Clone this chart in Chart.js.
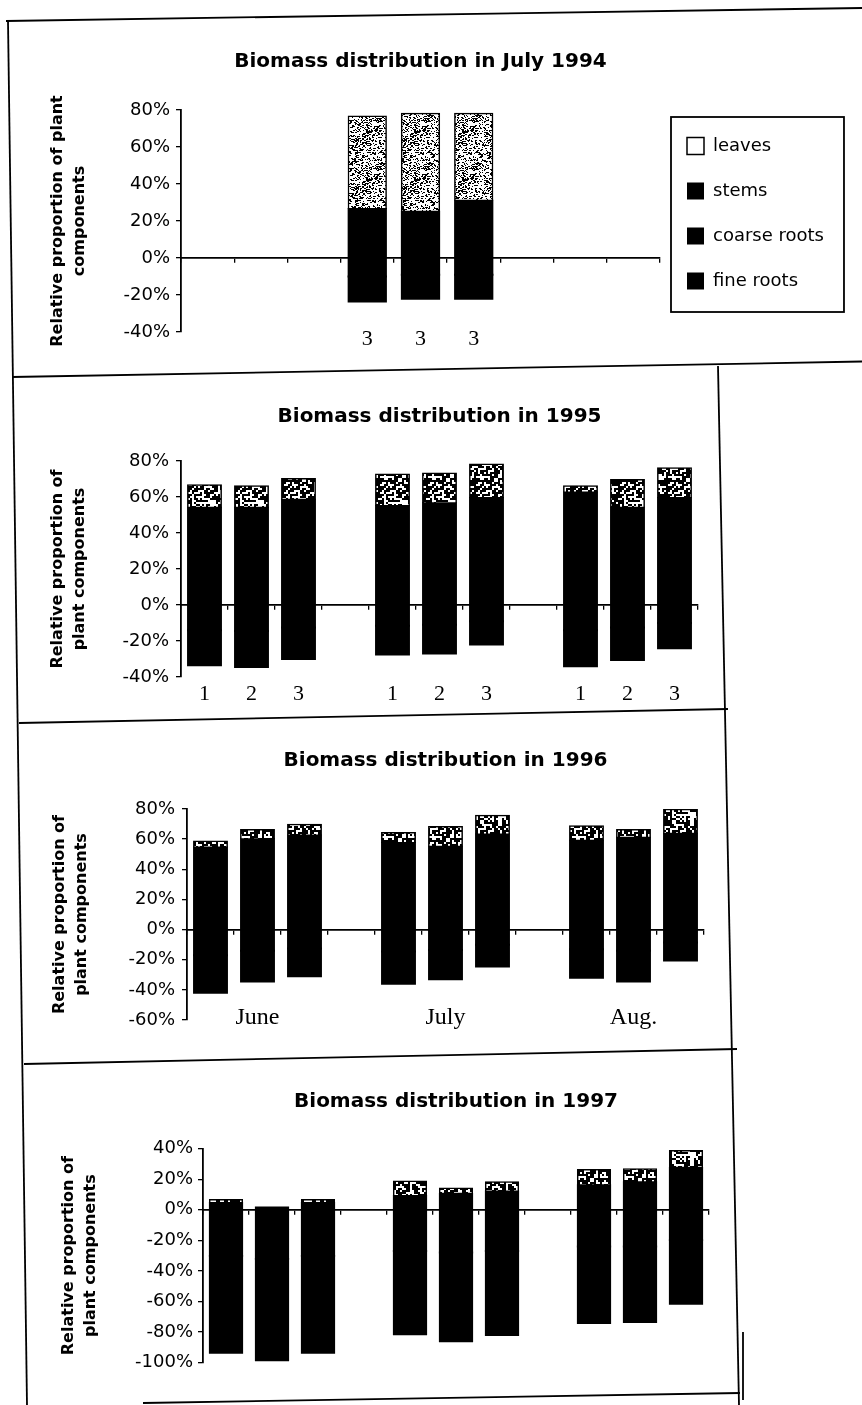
<!DOCTYPE html>
<html>
<head>
<meta charset="utf-8">
<title>Biomass distribution 1994–1997</title>
<script src="https://cdn.jsdelivr.net/npm/chart.js@4.4.1/dist/chart.umd.min.js"></script>
<style>
  html, body { margin: 0; padding: 0; background: #fff; }
  #page { position: relative; width: 862px; height: 1405px; overflow: hidden; background: #fff; }
  #page canvas { position: absolute; left: 0; }
  #frames { position: absolute; left: 0; top: 0; pointer-events: none; }
</style>
</head>
<body>
<div id="page">
  <canvas id="c1994" width="862" height="357" style="top:0px;width:862px;height:357px"></canvas>
  <canvas id="c1995" width="862" height="360" style="top:360px;width:862px;height:360px"></canvas>
  <canvas id="c1996" width="862" height="340" style="top:720px;width:862px;height:340px"></canvas>
  <canvas id="c1997" width="862" height="345" style="top:1060px;width:862px;height:345px"></canvas>
  <svg id="frames" width="862" height="1405" stroke="#000" stroke-width="1.8" fill="none">
    <line x1="6" y1="21" x2="862" y2="8"/>
    <line x1="8" y1="21" x2="27" y2="1405"/>
    <line x1="12" y1="377" x2="862" y2="361.5"/>
    <line x1="718" y1="366" x2="739" y2="1405"/>
    <line x1="19" y1="723" x2="728" y2="709"/>
    <line x1="24" y1="1064" x2="737" y2="1049"/>
    <line x1="143" y1="1403" x2="740" y2="1393"/>
    <line x1="743" y1="1332" x2="743" y2="1400"/>
  </svg>
</div>

<script>
// ---- plant components (legend order) ----
const componentNames = ['leaves', 'stems', 'coarse roots', 'fine roots'];

// ---- July 1994 (relative proportion, %) ----
const cats1994   = ['', '', '', '3', '3', '3', '', '', ''];
const leaves1994 = [null, null, null, 50, 53, 47, null, null, null];
const stems1994  = [null, null, null, 26.5, 25, 31, null, null, null];
const coarse1994 = [null, null, null, -10, -9, -9, null, null, null];
const fine1994   = [null, null, null, -13.5, -13, -13, null, null, null];

// ---- 1995: June / July / August, treatments 1-3 ----
const cats1995   = ['1', '2', '3', '', '1', '2', '3', '', '1', '2', '3'];
const leaves1995 = [12.5, 12, 11.5, null, 17.5, 16.5, 18.5, null, 3.5, 15.5, 16.5];
const stems1995  = [54, 54, 58.5, null, 55, 56.5, 59.5, null, 62.5, 54, 59.5];
const coarse1995 = [-14, -14.5, -12.5, null, -11.5, -11, -9, null, -14, -12.5, -10];
const fine1995   = [-19.5, -20, -17.5, null, -16, -16, -13, null, -20, -18, -14];

// ---- 1996 ----
const cats1996   = ['', 'June', '', '', '', 'July', '', '', '', 'Aug.', ''];
const leaves1996 = [4, 6, 7, null, 6.5, 13, 12.5, null, 9.5, 5, 16];
const stems1996  = [54.5, 60, 62.5, null, 57.5, 55, 63, null, 59, 61, 63.5];
const coarse1996 = [-17, -14, -12.5, null, -14.5, -13.5, -10, null, -13, -14, -8.5];
const fine1996   = [-25, -20.5, -18.5, null, -21.5, -19.5, -14.5, null, -19, -20.5, -12];

// ---- 1997 ----
const cats1997   = ['', '', '', '', '', '', '', '', '', '', ''];
const leaves1997 = [2, 0, 2, null, 9.5, 3.5, 6, null, 10, 8.5, 11];
const stems1997  = [4.5, 1.5, 4.5, null, 9, 10.5, 12, null, 16, 18, 27.5];
const coarse1997 = [-30, -32, -30, null, -27, -28, -27, null, -24, -24, -20];
const fine1997   = [-63.5, -66.5, -63.5, null, -54.5, -58, -55, null, -50, -49.5, -41.5];

// ---- axis ranges / tick labels ----
const yRange1994 = [-40, 80];
const yRange1995 = [-40, 80];
const yRange1996 = [-60, 80];
const yRange1997 = [-100, 40];
const yStep = 20;
const yTitleLong  = ['Relative proportion of plant', 'components'];
const yTitleShort = ['Relative proportion of', 'plant components'];

// ---------------------------------------------------------------
Chart.defaults.font.family = '"DejaVu Sans", sans-serif';
Chart.defaults.color = '#000';

// deterministic hash used to texture the leaf segments
function hash(x, y, seed) {
  const s = Math.sin(x * 127.1 + y * 311.7 + seed * 74.7) * 43758.5453;
  return s - Math.floor(s);
}
function speckle(ink, cell, seed) {
  const size = 48;
  const c = document.createElement('canvas');
  c.width = c.height = size;
  const g = c.getContext('2d');
  g.fillStyle = '#fff';
  g.fillRect(0, 0, size, size);
  g.fillStyle = '#000';
  for (let y = 0; y < size; y += cell) {
    for (let x = 0; x < size; x += cell) {
      if (hash(x, y, seed) < ink) {
        const w = hash(y, x, seed + 3) < 0.5 ? cell * 2 : cell;
        g.fillRect(x, y, w, cell);
      }
    }
  }
  return g.createPattern(c, 'repeat');
}
const lightLeaves = speckle(0.24, 1, 1);
const denseLeaves = speckle(0.5, 2, 2);

// frame drawn round the legend items
const legendFrame = {
  id: 'legendFrame',
  afterDraw(chart) {
    const hb = chart.legend && chart.legend.legendHitBoxes;
    if (!hb || !hb.length) return;
    const ctx = chart.ctx;
    const l = Math.min(...hb.map(h => h.left)) - 16;
    const r = Math.max(...hb.map(h => h.left + h.width)) + 20;
    const t = Math.min(...hb.map(h => h.top)) - 20;
    const b = Math.max(...hb.map(h => h.top + h.height)) + 22;
    ctx.save();
    ctx.strokeStyle = '#000';
    ctx.lineWidth = 1.8;
    ctx.strokeRect(l, t, r - l, b - t);
    ctx.restore();
  }
};

function buildChart(id, spec) {
  const solid = { backgroundColor: '#000', borderWidth: 0, inflateAmount: 1 };
  const datasets = [
    Object.assign({ label: 'stems', data: spec.stems }, solid),
    { label: 'leaves', data: spec.leaves, backgroundColor: spec.pattern, borderColor: '#000', borderWidth: 1.5, inflateAmount: 1 },
    Object.assign({ label: 'coarse roots', data: spec.coarse }, solid),
    Object.assign({ label: 'fine roots', data: spec.fine }, solid)
  ];
  const cfg = {
    type: 'bar',
    data: { labels: spec.labels, datasets },
    options: {
      responsive: false,
      animation: false,
      events: [],
      devicePixelRatio: 1,
      datasets: { bar: { categoryPercentage: 0.7, barPercentage: 1 } },
      layout: { padding: { left: 0, right: spec.padRight, top: 0, bottom: spec.xHeight } },
      plugins: {
        tooltip: { enabled: false },
        title: {
          display: true,
          text: spec.title,
          fullSize: false,
          color: '#000',
          font: { size: 20, weight: 'bold' },
          padding: { top: spec.titleTop, bottom: spec.titleBottom }
        },
        legend: spec.legend ? {
          display: true,
          position: 'right',
          align: 'start',
          fullSize: false,
          labels: {
            boxWidth: 17,
            boxHeight: 17,
            padding: 27,
            color: '#000',
            font: { size: 18 },
            sort: (a, b) => componentNames.indexOf(a.text) - componentNames.indexOf(b.text),
            generateLabels(chart) {
              const items = Chart.defaults.plugins.legend.labels.generateLabels(chart);
              items.forEach(it => {
                if (it.text === 'leaves') {
                  it.fillStyle = '#fff';
                  it.strokeStyle = '#000';
                  it.lineWidth = 1.5;
                } else {
                  it.fillStyle = '#000';
                  it.lineWidth = 0;
                }
              });
              return items;
            }
          }
        } : { display: false }
      },
      scales: {
        // category labels sit under the lowest y value
        x: {
          stacked: true,
          position: { y: spec.yRange[0] },
          offset: true,
          grid: { display: false, drawTicks: false, offset: true },
          border: { display: false },
          ticks: {
            display: spec.showCats,
            autoSkip: false,
            maxRotation: 0,
            padding: spec.catPad,
            color: '#000',
            font: { family: '"Liberation Serif", "Times New Roman", serif', size: spec.catSize }
          }
        },
        // horizontal axis line through 0 %
        x2: {
          axis: 'x',
          type: 'category',
          position: { y: 0 },
          offset: true,
          grid: { display: true, drawOnChartArea: false, drawTicks: true, tickLength: 4, color: '#000', lineWidth: 1.3, offset: true },
          border: { display: true, color: '#000', width: 1.8 },
          ticks: { display: false }
        },
        y: {
          stacked: true,
          min: spec.yRange[0],
          max: spec.yRange[1],
          grid: { display: true, drawOnChartArea: false, drawTicks: true, tickLength: 5, color: '#000', lineWidth: 1.3 },
          border: { display: true, color: '#000', width: 1.8 },
          ticks: {
            stepSize: yStep,
            padding: spec.tickPad,
            color: '#000',
            font: { size: 18 },
            callback: v => v + '%'
          },
          title: {
            display: true,
            text: spec.yTitle,
            color: '#000',
            font: { size: 16, weight: 'bold', lineHeight: 1.375 },
            padding: { top: spec.yTitlePad, bottom: 0 }
          },
          afterFit: s => { s.width = spec.axisLeft; }
        }
      }
    },
    plugins: spec.legend ? [legendFrame] : []
  };
  const chart = new Chart(document.getElementById(id), cfg);
  // keep the plot's right edge where the axis should end
  const diff = chart.chartArea.right - spec.plotRight;
  if (Math.abs(diff) > 0.5) {
    chart.options.layout.padding.right += diff;
    chart.update();
  }
  return chart;
}

buildChart('c1994', {
  title: 'Biomass distribution in July 1994',
  labels: cats1994, leaves: leaves1994, stems: stems1994, coarse: coarse1994, fine: fine1994,
  pattern: lightLeaves, yRange: yRange1994, yTitle: yTitleLong, legend: true,
  axisLeft: 181, plotRight: 660, padRight: 30,
  titleTop: 50, titleBottom: 36, xHeight: 25,
  showCats: true, catSize: 22, catPad: -6, tickPad: 6, yTitlePad: 47
});

buildChart('c1995', {
  title: 'Biomass distribution in 1995',
  labels: cats1995, leaves: leaves1995, stems: stems1995, coarse: coarse1995, fine: fine1995,
  pattern: denseLeaves, yRange: yRange1995, yTitle: yTitleShort, legend: false,
  axisLeft: 181, plotRight: 698, padRight: 164,
  titleTop: 44.7, titleBottom: 32.3, xHeight: 43,
  showCats: true, catSize: 22, catPad: 4, tickPad: 7, yTitlePad: 47
});

buildChart('c1996', {
  title: 'Biomass distribution in 1996',
  labels: cats1996, leaves: leaves1996, stems: stems1996, coarse: coarse1996, fine: fine1996,
  pattern: denseLeaves, yRange: yRange1996, yTitle: yTitleShort, legend: false,
  axisLeft: 187, plotRight: 704, padRight: 158,
  titleTop: 28.8, titleBottom: 36.2, xHeight: 40,
  showCats: true, catSize: 24, catPad: -17, tickPad: 7, yTitlePad: 49
});

buildChart('c1997', {
  title: 'Biomass distribution in 1997',
  labels: cats1997, leaves: leaves1997, stems: stems1997, coarse: coarse1997, fine: fine1997,
  pattern: denseLeaves, yRange: yRange1997, yTitle: yTitleShort, legend: false,
  axisLeft: 203, plotRight: 709, padRight: 153,
  titleTop: 30, titleBottom: 34.7, xHeight: 42.4,
  showCats: false, catSize: 22, catPad: 0, tickPad: 5, yTitlePad: 58
});
</script>
</body>
</html>
